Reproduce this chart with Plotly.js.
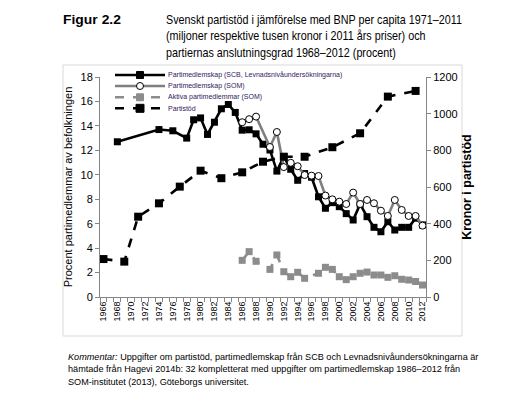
<!DOCTYPE html>
<html>
<head>
<meta charset="utf-8">
<script src="https://cdn.plot.ly/plotly-3.0.1.min.js"></script>
<style>
html,body{margin:0;padding:0;background:#fff;}
#chart{width:518px;height:394px;}
</style>
</head>
<body>
<div id="chart"></div>
<script>
// ---- data ----
const scbYears = [1968,1974,1976,1978,1979,1980,1981,1982,1983,1984,1985,1986,1987,1988,1989,1990,1991,1992,1993,1994,1995,1996,1997,1998,1999,2000,2001,2002,2003,2004,2005,2006,2007,2008,2009,2010,2011,2012];
const scbValues = [12.7,13.7,13.6,13.0,14.5,14.65,13.3,14.3,15.4,15.75,15.1,13.65,13.68,13.35,12.5,12.03,10.3,11.5,10.45,9.55,10.1,9.8,8.2,7.26,7.72,7.39,6.82,6.3,7.6,6.57,5.7,5.34,6.16,5.48,5.7,5.7,6.45,5.9];

const somYears = [1986,1987,1988,1989,1990,1991,1992,1993,1994,1995,1996,1997,1998,1999,2000,2001,2002,2003,2004,2005,2006,2007,2008,2009,2010,2011,2012];
const somValues = [14.3,14.55,14.76,null,12.27,13.5,10.63,10.98,10.7,9.98,9.93,9.9,8.3,7.99,7.8,7.61,8.54,7.61,7.94,7.67,7.06,6.63,7.94,7.12,6.63,6.63,5.84];

const activeYears = [1986,1987,1988,1989,1990,1991,1992,1993,1994,1995,1996,1997,1998,1999,2000,2001,2002,2003,2004,2005,2006,2007,2008,2009,2010,2011,2012];
const activeValues = [3.0,3.71,2.92,null,2.26,3.44,2.07,1.66,2.02,1.53,null,1.94,2.43,2.26,1.66,1.42,1.66,1.94,2.04,1.8,1.8,1.61,1.74,1.45,1.39,1.27,0.98];

const supportYears = [1966,1969,1971,1974,1977,1980,1983,1986,1989,1992,1995,1999,2003,2007,2011];
const supportValues = [207,193,438,511,602,689,648,680,738,765,765,817,893,1093,1124];

const tickYears = [1966,1968,1970,1972,1974,1976,1978,1980,1982,1984,1986,1988,1990,1992,1994,1996,1998,2000,2002,2004,2006,2008,2010,2012];
const tickLabels = tickYears.map(String);

const seriesNames = [
  'Partimedlemskap (SCB, Levnadsnivåundersökningarna)',
  'Partimedlemskap (SOM)',
  'Aktiva partimedlemmar (SOM)',
  'Partistöd'
];

// ---- styles ----
const styles = [
  {line: {color: '#000000', width: 2.6}, marker: {symbol: 'square', size: 7, color: '#000000'}},
  {line: {color: '#7f7f7f', width: 2.6}, marker: {symbol: 'circle', size: 7, color: '#ffffff', line: {color: '#000000', width: 1}}},
  {line: {color: '#8c8c8c', width: 2.6, dash: 'dash'}, marker: {symbol: 'square', size: 7, color: '#8c8c8c'}},
  {line: {color: '#000000', width: 2.6, dash: 'dash'}, marker: {symbol: 'square', size: 8, color: '#000000'}}
];

const traces = [
  Object.assign({x: scbYears, y: scbValues, name: seriesNames[0], type: 'scatter', mode: 'lines+markers'}, styles[0]),
  Object.assign({x: somYears, y: somValues, name: seriesNames[1], type: 'scatter', mode: 'lines+markers', connectgaps: true}, styles[1]),
  Object.assign({x: activeYears, y: activeValues, name: seriesNames[2], type: 'scatter', mode: 'lines+markers', connectgaps: true}, styles[2]),
  Object.assign({x: supportYears, y: supportValues, name: seriesNames[3], type: 'scatter', mode: 'lines+markers', yaxis: 'y2'}, styles[3])
];

const sans = '"Liberation Sans", Arial, sans-serif';

// plot area in pixels: left 100, right 426, top 77, bottom 297
const PX = v => (v - 100) / 326;
const PY = v => (297 - v) / 220;

// custom compact legend (key samples + labels)
const legendRows = [75, 86, 97.3, 108.3];
const shapes = [
  {type: 'rect', xref: 'paper', yref: 'paper', x0: PX(63), x1: PX(462), y0: PY(336), y1: PY(65),
   line: {color: '#d9d9d9', width: 1}, fillcolor: 'rgba(0,0,0,0)', layer: 'below'}
];
const legendAnn = [];
legendRows.forEach((ry, i) => {
  const st = styles[i];
  shapes.push({type: 'line', xref: 'paper', yref: 'paper', x0: PX(115), x1: PX(165), y0: PY(ry), y1: PY(ry),
    line: {color: st.line.color, width: st.line.width, dash: st.line.dash || 'solid'}});
  const s = st.marker.size;
  shapes.push({type: st.marker.symbol === 'circle' ? 'circle' : 'rect', xref: 'paper', yref: 'paper',
    xsizemode: 'pixel', ysizemode: 'pixel', xanchor: PX(140), yanchor: PY(ry),
    x0: -s / 2, x1: s / 2, y0: -s / 2, y1: s / 2,
    fillcolor: st.marker.color, line: {color: st.marker.line ? st.marker.line.color : st.marker.color, width: 1}});
  legendAnn.push({xref: 'paper', yref: 'paper', x: PX(166), y: PY(ry), xanchor: 'left', yanchor: 'middle',
    showarrow: false, text: seriesNames[i], font: {family: sans, size: 7, color: '#33205e'}});
});

const layout = {
  width: 518, height: 394,
  margin: {l: 100, r: 92, t: 77, b: 97},
  paper_bgcolor: '#ffffff', plot_bgcolor: '#ffffff',
  showlegend: false,
  xaxis: {
    range: [1965.5, 2012.5], tickmode: 'array', tickvals: tickYears, ticktext: tickLabels,
    tickangle: -90, tickfont: {family: sans, size: 9, color: '#000'}, ticks: '',
    showline: true, linecolor: '#868686', linewidth: 1, showgrid: false, zeroline: false,
    minor: {ticks: 'outside', tick0: 1965.5, dtick: 1, ticklen: 4, tickcolor: '#868686', showgrid: false}
  },
  yaxis: {
    range: [0, 18], dtick: 2, ticks: 'outside', ticklen: 4, tickcolor: '#868686',
    showline: true, linecolor: '#868686', linewidth: 1, showgrid: false, zeroline: false,
    tickfont: {family: sans, size: 11, color: '#000'},
    title: {text: 'Procent partimedlemmar av befolkningen', font: {family: sans, size: 11, color: '#000'}, standoff: 5}
  },
  yaxis2: {
    range: [0, 1200], dtick: 200, overlaying: 'y', side: 'right', ticks: 'outside', ticklen: 4, tickcolor: '#868686',
    showline: true, linecolor: '#868686', linewidth: 1, showgrid: false, zeroline: false,
    tickfont: {family: sans, size: 11, color: '#000'},
    title: {text: '<b>Kronor i partistöd</b>', font: {family: sans, size: 12.5, color: '#000'}, standoff: 5}
  },
  shapes: shapes,
  annotations: [
    {xref: 'paper', yref: 'paper', x: PX(61), y: PY(20), xanchor: 'left', yanchor: 'middle', showarrow: false,
     text: '<b>Figur 2.2</b>', font: {family: sans, size: 12.7, color: '#000'}},
    {xref: 'paper', yref: 'paper', x: PX(164), y: PY(37), xanchor: 'left', yanchor: 'middle', showarrow: false, align: 'left',
     text: 'Svenskt partistöd i jämförelse med BNP per capita 1971–2011<br>(miljoner respektive tusen kronor i 2011 års priser) och<br>partiernas anslutningsgrad 1968–2012 (procent)',
     font: {family: sans, size: 12.7, color: '#000'}},
    {xref: 'paper', yref: 'paper', x: PX(66), y: PY(369), xanchor: 'left', yanchor: 'middle', showarrow: false, align: 'left',
     text: '<i>Kommentar:</i> Uppgifter om partistöd, partimedlemskap från SCB och Levnadsnivåundersökningarna är<br>hämtade från Hagevi 2014b: 32 kompletterat med uppgifter om partimedlemskap 1986–2012 från<br>SOM-institutet (2013), Göteborgs universitet.',
     font: {family: sans, size: 9.6, color: '#000'}}
  ].concat(legendAnn)
};

// condensed look of the reference typeface: squeeze text blocks horizontally to the reference widths
const targetWidths = {0: 58, 1: 296, 2: 411};

Plotly.newPlot('chart', traces, layout, {displayModeBar: false, staticPlot: true}).then(() => {
  document.querySelectorAll('#chart g.annotation').forEach(g => {
    const idx = g.getAttribute('data-index');
    if (!(idx in targetWidths)) return;
    const t = g.querySelector('text');
    if (!t) return;
    const r = t.getBoundingClientRect();
    if (!r.width) return;
    const s = targetWidths[idx] / r.width;
    const L = r.left;
    g.setAttribute('transform', 'translate(' + L + ',0) scale(' + s + ',1) translate(' + (-L) + ',0)');
  });
});
</script>
</body>
</html>
